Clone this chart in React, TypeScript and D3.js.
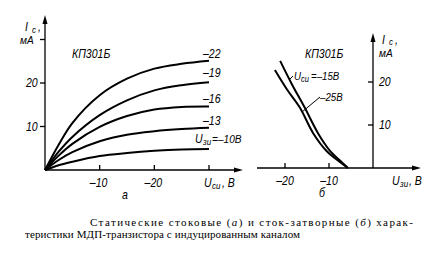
import React from "react";
import * as d3 from "d3";

// Left chart: drain characteristics Ic(Uси) for gate voltages
const drainVoltages = [0, -2.5, -5, -10, -15, -20, -25, -30];
const gateLabels = ["–22", "–19", "–16", "–13", "–10"];
const seriesG22 = [0, 5.8, 10.8, 17.2, 21.0, 23.3, 24.4, 25.1];
const seriesG19 = [0, 4.2, 7.6, 12.6, 16.0, 18.3, 19.5, 20.2];
const seriesG16 = [0, 3.3, 6.0, 9.9, 12.4, 13.9, 14.5, 14.6];
const seriesG13 = [0, 2.3, 4.1, 6.6, 8.1, 8.9, 9.4, 9.7];
const seriesG10 = [0, 1.1, 1.9, 3.2, 3.9, 4.4, 4.7, 4.8];
const leftXTicks = [-10, -20];
const leftYTicks = [10, 20];

// Right chart: transfer characteristics Ic(Uзи)
const gateV_15 = [-21.1, -18.5, -15.5, -12.5, -10, -7.7, -5.7];
const curr_15 = [24.9, 19.6, 14.0, 8.1, 4.3, 1.9, 0];
const gateV_25 = [-22.3, -19.5, -16.6, -13.6, -10.5, -8.2, -5.7];
const curr_25 = [22.8, 18.2, 14.0, 8.1, 3.9, 1.9, 0];
const rightXTicks = [-20, -10];
const rightYTicks = [10, 20];

const sans = "'Liberation Sans', 'DejaVu Sans', sans-serif";
const serif = "'Liberation Serif', 'DejaVu Serif', serif";

type TxtProps = { x: number; y: number; size?: number; anchor?: string; children: React.ReactNode };
function T({ x, y, size = 11, anchor = "start", children }: TxtProps) {
  return (
    <text
      x={x}
      y={y}
      fontFamily={sans}
      fontStyle="italic"
      fontSize={size}
      textAnchor={anchor as any}
      fill="#000"
      transform={`translate(${x},0) scale(0.88,1) translate(${-x},0)`}
    >
      {children}
    </text>
  );
}

export default function App() {
  const xL = d3.scaleLinear().domain([0, -30]).range([45, 209]);
  const yL = d3.scaleLinear().domain([0, 30]).range([170, 39.5]);
  const xR = d3.scaleLinear().domain([0, -20]).range([373, 285]);
  const yR = d3.scaleLinear().domain([0, 20]).range([168, 82]);

  const leftSeries = [seriesG22, seriesG19, seriesG16, seriesG13, seriesG10];
  const lineL = d3
    .line<[number, number]>()
    .x((d) => xL(d[0]))
    .y((d) => yL(d[1]))
    .curve(d3.curveCatmullRom.alpha(0.5));
  const lineR = d3
    .line<[number, number]>()
    .x((d) => xR(d[0]))
    .y((d) => yR(d[1]))
    .curve(d3.curveCatmullRom.alpha(0.5));

  const labelY = [58, 77, 103, 125];
  const ax = { stroke: "#000", strokeWidth: 1.3, fill: "none" };

  return (
    <svg width={443} height={253} style={{ position: "absolute", left: 0, top: 0, background: "#fff" }}>
      {/* LEFT CHART axes */}
      <line x1={45} y1={170} x2={240} y2={170} {...ax} />
      <path d="M243,170 L234,167.5 L234,172.5 Z" fill="#000" />
      <line x1={45} y1={170} x2={45} y2={19} {...ax} />
      <path d="M45,15 L42.5,24 L47.5,24 Z" fill="#000" />
      {[...leftXTicks, -30].map((t) => (
        <line key={t} x1={xL(t)} x2={xL(t)} y1={170} y2={165} {...ax} />
      ))}
      {[...leftYTicks, 30].map((t) => (
        <line key={t} x1={40} x2={45} y1={yL(t)} y2={yL(t)} {...ax} />
      ))}
      {leftYTicks.map((t) => (
        <T key={t} x={26} y={yL(t) + 4.5} size={12}>
          {t}
        </T>
      ))}
      {leftXTicks.map((t) => (
        <T key={t} x={xL(t) - 1} y={187} size={12} anchor="middle">
          {"–" + Math.abs(t)}
        </T>
      ))}
      <T x={204} y={187} size={12}>U</T>
      <T x={212} y={189} size={9}>си</T>
      <T x={222} y={187} size={12}>, В</T>
      <T x={125} y={199} size={12} anchor="middle">а</T>
      <T x={25} y={31.5} size={12}>I</T>
      <T x={32} y={33} size={9}>с</T>
      <T x={38} y={31.5} size={12}>,</T>
      <T x={20} y={44} size={11.5}>мА</T>
      <T x={72} y={58} size={12}>КП301Б</T>

      {leftSeries.map((s, i) => (
        <path
          key={i}
          d={lineL(drainVoltages.map((v, j) => [v, s[j]] as [number, number])) || ""}
          fill="none"
          stroke="#000"
          strokeWidth={2}
        />
      ))}
      {gateLabels.slice(0, 4).map((l, i) => (
        <T key={l} x={203} y={labelY[i]} size={12}>
          {l}
        </T>
      ))}
      <T x={195} y={143} size={12}>U</T>
      <T x={203} y={145} size={9}>зи</T>
      <T x={212} y={143} size={11.5}>{"=" + gateLabels[4] + "В"}</T>

      {/* RIGHT CHART axes */}
      <line x1={257} y1={168} x2={418} y2={168} {...ax} />
      <path d="M421,168 L412,165.5 L412,170.5 Z" fill="#000" />
      <line x1={373} y1={168} x2={373} y2={37} {...ax} />
      <path d="M373,33 L370.5,42 L375.5,42 Z" fill="#000" />
      {rightXTicks.map((t) => (
        <line key={t} x1={xR(t)} x2={xR(t)} y1={168} y2={163} {...ax} />
      ))}
      {rightYTicks.map((t) => (
        <line key={t} x1={368} x2={373} y1={yR(t)} y2={yR(t)} {...ax} />
      ))}
      {rightYTicks.map((t) => (
        <T key={t} x={379} y={yR(t) + 4.5} size={12}>
          {t}
        </T>
      ))}
      {rightXTicks.map((t) => (
        <T key={t} x={xR(t)} y={185} size={12} anchor="middle">
          {"–" + Math.abs(t)}
        </T>
      ))}
      <T x={392} y={185} size={12}>U</T>
      <T x={400} y={187} size={9}>зи</T>
      <T x={409} y={185} size={12}>, В</T>
      <T x={322} y={197} size={12} anchor="middle">б</T>
      <T x={382} y={44} size={12}>I</T>
      <T x={389} y={45.5} size={9}>с</T>
      <T x={395} y={44} size={12}>,</T>
      <T x={379} y={57} size={11.5}>мА</T>
      <T x={305} y={58} size={12}>КП301Б</T>

      <path
        d={lineR(gateV_15.map((v, j) => [v, curr_15[j]] as [number, number])) || ""}
        fill="none"
        stroke="#000"
        strokeWidth={2}
      />
      <path
        d={lineR(gateV_25.map((v, j) => [v, curr_25[j]] as [number, number])) || ""}
        fill="none"
        stroke="#000"
        strokeWidth={2}
      />
      <line x1={293} y1={76} x2={289.5} y2={79.5} stroke="#000" strokeWidth={1} />
      <T x={294} y={80} size={11}>U</T>
      <T x={301} y={82} size={8.5}>си</T>
      <T x={311} y={80} size={11}>=–15В</T>
      <line x1={320} y1={97} x2={302} y2={112} stroke="#000" strokeWidth={1} />
      <T x={320} y={101} size={11}>–25В</T>

      {/* Caption */}
      <text x={90} y={226} fontFamily={serif} fontSize={11} fill="#000" textLength={323} lengthAdjust="spacing">
        Статические стоковые (<tspan fontStyle="italic">а</tspan>) и сток-затворные (<tspan fontStyle="italic">б</tspan>) харак-
      </text>
      <text x={25} y={238} fontFamily={serif} fontSize={11} fill="#000" textLength={275} lengthAdjust="spacing">
        теристики МДП-транзистора с индуцированным каналом
      </text>
    </svg>
  );
}
